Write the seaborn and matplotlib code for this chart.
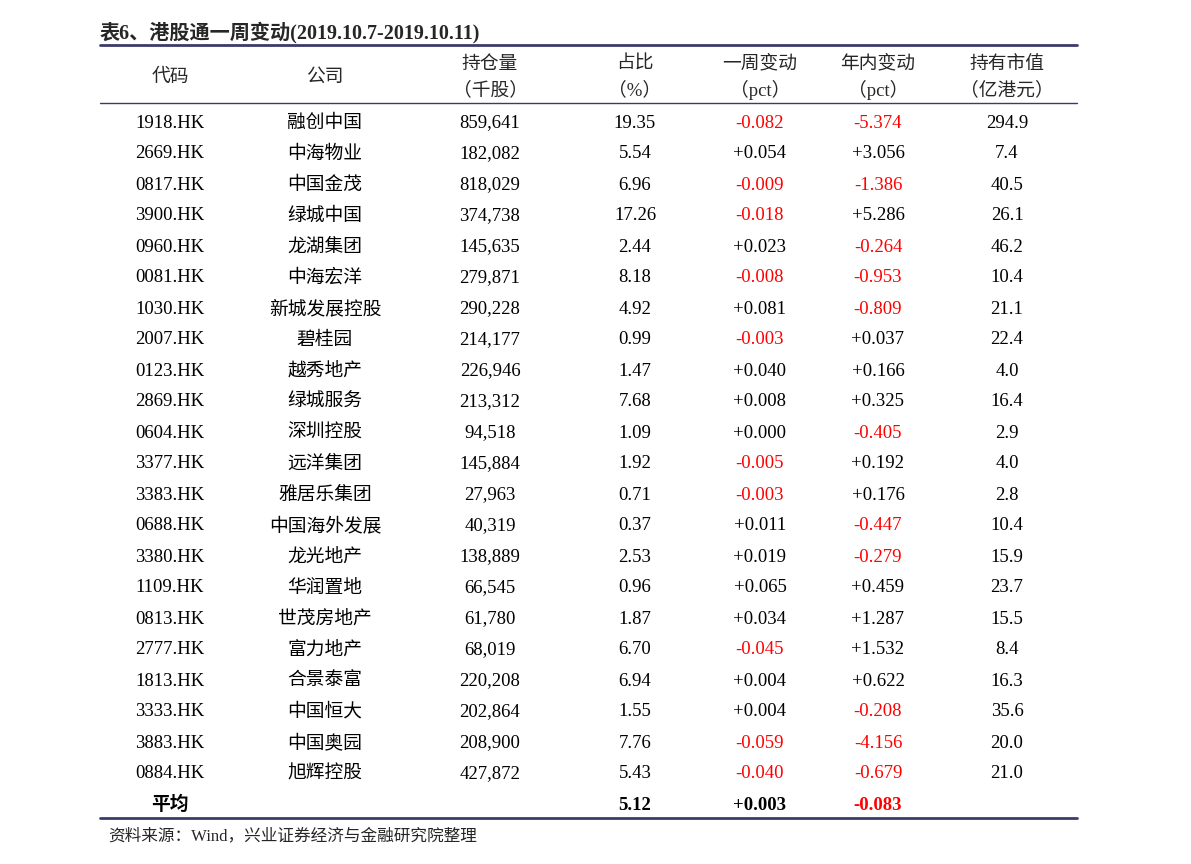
import matplotlib
matplotlib.use("Agg")
import matplotlib.pyplot as plt
import seaborn as sns

sns.set_theme(style="white")
plt.rcParams['font.family'] = ['Liberation Serif', 'Noto Sans CJK SC', 'DejaVu Sans']

title = "表6、港股通一周变动(2019.10.7-2019.10.11)"
headers = [("代码", ""), ("公司", ""), ("持仓量", "（千股）"), ("占比", "（%）"),
           ("一周变动", "（pct）"), ("年内变动", "（pct）"), ("持有市值", "（亿港元）")]
codes = ["1918.HK","2669.HK","0817.HK","3900.HK","0960.HK","0081.HK","1030.HK","2007.HK",
         "0123.HK","2869.HK","0604.HK","3377.HK","3383.HK","0688.HK","3380.HK","1109.HK",
         "0813.HK","2777.HK","1813.HK","3333.HK","3883.HK","0884.HK"]
companies = ["融创中国","中海物业","中国金茂","绿城中国","龙湖集团","中海宏洋","新城发展控股","碧桂园",
             "越秀地产","绿城服务","深圳控股","远洋集团","雅居乐集团","中国海外发展","龙光地产","华润置地",
             "世茂房地产","富力地产","合景泰富","中国恒大","中国奥园","旭辉控股"]
holdings = ["859,641","182,082","818,029","374,738","145,635","279,871","290,228","214,177",
            "226,946","213,312","94,518","145,884","27,963","40,319","138,889","66,545",
            "61,780","68,019","220,208","202,864","208,900","427,872"]
share = ["19.35","5.54","6.96","17.26","2.44","8.18","4.92","0.99","1.47","7.68","1.09",
         "1.92","0.71","0.37","2.53","0.96","1.87","6.70","6.94","1.55","7.76","5.43"]
week = ["-0.082","+0.054","-0.009","-0.018","+0.023","-0.008","+0.081","-0.003","+0.040",
        "+0.008","+0.000","-0.005","-0.003","+0.011","+0.019","+0.065","+0.034","-0.045",
        "+0.004","+0.004","-0.059","-0.040"]
ytd = ["-5.374","+3.056","-1.386","+5.286","-0.264","-0.953","-0.809","+0.037","+0.166",
       "+0.325","-0.405","+0.192","+0.176","-0.447","-0.279","+0.459","+1.287","+1.532",
       "+0.622","-0.208","-4.156","-0.679"]
value = ["294.9","7.4","40.5","26.1","46.2","10.4","21.1","22.4","4.0","16.4","2.9","4.0",
         "2.8","10.4","15.9","23.7","15.5","8.4","16.3","35.6","20.0","21.0"]
avg = ("平均", "", "", "5.12", "+0.003", "-0.083", "")
source = "资料来源：Wind，兴业证券经济与金融研究院整理"

W, H = 1191, 864
fig = plt.figure(figsize=(W/100, H/100), dpi=100)
ax = fig.add_axes([0, 0, 1, 1])
ax.set_xlim(0, W); ax.set_ylim(H, 0); ax.axis('off')

xs = [170, 325, 490, 635, 760, 878, 1007]
line_c = "#3b3b6b"
fs = 13.5
VA = 'center_baseline'
ax.text(100, 30, title, fontsize=14.5, fontweight='bold', va=VA, ha='left')
ax.plot([100, 1077], [45, 45], color=line_c, lw=2)
ax.plot([100, 1077], [103, 103], color=line_c, lw=1)
ax.plot([100, 1077], [818, 818], color=line_c, lw=2)
for x, (h1, h2) in zip(xs, headers):
    if h2:
        ax.text(x, 62, h1, fontsize=fs, ha='center', va=VA)
        ax.text(x, 88, h2, fontsize=fs, ha='center', va=VA)
    else:
        ax.text(x, 75, h1, fontsize=fs, ha='center', va=VA)

def col(v):
    return "red" if v.startswith("-") else "black"

for i in range(len(codes)):
    y = 121 + i * 31
    row = [codes[i], companies[i], holdings[i], share[i], week[i], ytd[i], value[i]]
    for j, (x, v) in enumerate(zip(xs, row)):
        c = col(v) if j in (4, 5) else "black"
        ax.text(x, y, v, fontsize=fs, ha='center', va=VA, color=c)
for j, (x, v) in enumerate(zip(xs, avg)):
    if v:
        c = col(v) if j in (4, 5) else "black"
        ax.text(x, 803, v, fontsize=fs, ha='center', va=VA, color=c, fontweight='bold')
ax.text(108, 834, source, fontsize=12, ha='left', va=VA)
fig.savefig("out.png", dpi=100)
